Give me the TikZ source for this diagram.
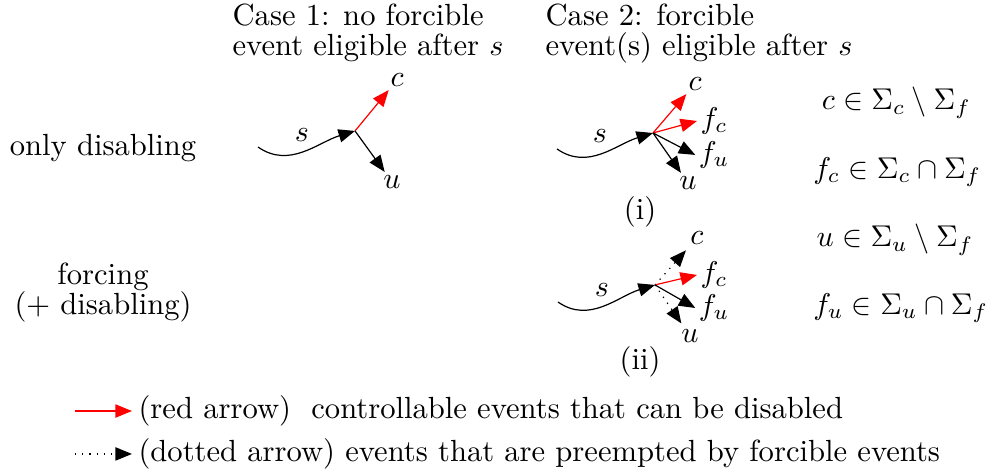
\documentclass[tikz,border=0pt]{standalone}
\usepackage{tikz}
\usetikzlibrary{arrows.meta,positioning,calc}
\usepackage{amsmath,amssymb}

\begin{document}
\begin{tikzpicture}[
        font=\fontsize{10.2}{12}\selectfont,
        arrow/.style={-{Triangle[length=5.5pt,width=4.4pt]}},
        redarrow/.style={arrow, red},
        dotarrow/.style={arrow, dotted, shorten >=1pt},
        lbl/.style={inner sep=1pt},
        casehead/.style={align=left, anchor=north west, inner sep=0pt, font=\fontsize{10.2}{10}\selectfont},
        rowhead/.style={align=center, font=\fontsize{10.2}{10}\selectfont},
        setlbl/.style={anchor=west, inner sep=0pt}
    ]
        \useasboundingbox (0,0) rectangle (11.633,5.576);

        % Column and row headings
        \node[casehead] (case1) at (2.718,5.535) {Case 1: no forcible\\event eligible after $s$};
        \node[casehead] (case2) at (6.385,5.535) {Case 2: forcible\\event(s) eligible after $s$};
        \node[rowhead] (onlydis) at (1.207,3.843) {only disabling};
        \node[rowhead] (forcing) at (1.207,2.144) {forcing\\(+ disabling)};

        % Case 1
        \coordinate (j1) at (4.159,4.042);
        \coordinate (s1a) at (3.022,3.854);
        \node[lbl] (s1) at (3.538,3.995) {$s$};
        \node[lbl] (c1) at (4.651,4.639) {$c$};
        \node[lbl] (u1) at (4.592,3.444) {$u$};
        \draw[arrow] (s1a) to[out=-35,in=197] (j1);
        \draw[redarrow] (j1) -- (c1);
        \draw[arrow] (j1) -- (u1);

        % Case 2 (i)
        \coordinate (j2) at (7.650,4.018);
        \coordinate (s2a) at (6.525,3.831);
        \node[lbl] (s2) at (7.029,3.983) {$s$};
        \node[lbl] (c2) at (8.142,4.592) {$c$};
        \node[lbl] (fc2) at (8.365,4.159) {$f_c$};
        \node[lbl] (fu2) at (8.365,3.761) {$f_u$};
        \node[lbl] (u2) at (8.060,3.433) {$u$};
        \node (cap1) at (7.498,3.093) {(i)};
        \draw[arrow] (s2a) to[out=-35,in=197] (j2);
        \draw[redarrow] (j2) -- (c2);
        \draw[redarrow] (j2) -- (fc2.west);
        \draw[arrow] (j2) -- (fu2.west);
        \draw[arrow] (j2) -- (u2);

        % Case 2 (ii)
        \coordinate (j3) at (7.673,2.238);
        \coordinate (s3a) at (6.537,2.038);
        \node[lbl] (s3) at (7.052,2.179) {$s$};
        \node[lbl] (c3) at (8.165,2.788) {$c$};
        \node[lbl] (fc3) at (8.365,2.355) {$f_c$};
        \node[lbl] (fu3) at (8.365,1.968) {$f_u$};
        \node[lbl] (u3) at (8.083,1.640) {$u$};
        \node (cap2) at (7.498,1.336) {(ii)};
        \draw[arrow] (s3a) to[out=-35,in=197] (j3);
        \draw[dotarrow] (j3) -- (c3);
        \draw[redarrow] (j3) -- (fc3.west);
        \draw[arrow] (j3) -- (fu3.west);
        \draw[dotarrow] (j3) -- (u3);

        % Event sets
        \node[setlbl] (setc) at (9.620,4.370) {$c \in \Sigma_c \setminus \Sigma_f$};
        \node[setlbl] (setfc) at (9.520,3.561) {$f_c \in \Sigma_c \cap \Sigma_f$};
        \node[setlbl] (setu) at (9.560,2.765) {$u \in \Sigma_u \setminus \Sigma_f$};
        \node[setlbl] (setfu) at (9.520,1.968) {$f_u \in \Sigma_u \cap \Sigma_f$};

        % Legend
        \coordinate (leg1) at (0.879,0.761);
        \coordinate (leg2) at (0.879,0.258);
        \node[anchor=west, inner sep=2pt] (legred) at (1.546,0.761) {(red arrow)\ \ controllable events that can be disabled};
        \node[anchor=west, inner sep=2pt] (legdot) at (1.546,0.258) {(dotted arrow) events that are preempted by forcible events};
        \draw[redarrow] (leg1) -- (legred.west);
        \draw[arrow, dotted] (leg2) -- (legdot.west);
    \end{tikzpicture}
\end{document}
